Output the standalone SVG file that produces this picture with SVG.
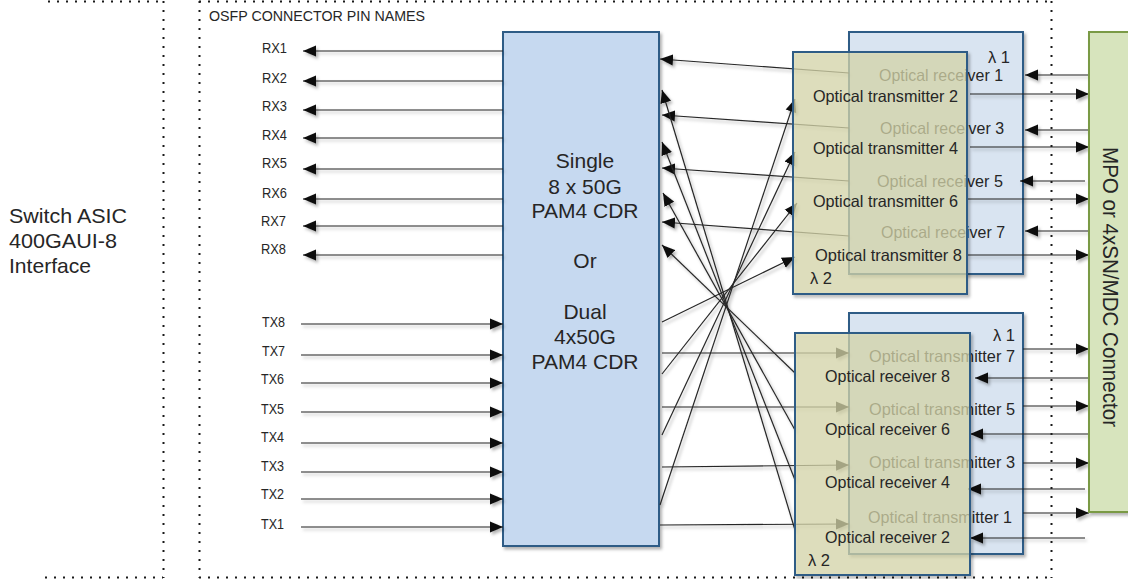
<svg xmlns="http://www.w3.org/2000/svg" width="1128" height="579" viewBox="0 0 1128 579">
<defs>
<style>
text{font-family:"Liberation Sans",Arial,sans-serif;fill:#262626}
.dot{stroke:#1a1a1a;stroke-width:2;stroke-dasharray:2 7;fill:none}
.pin{font-size:15px}
.cdr{fill:#c6d9f0;stroke:#2e5c86;stroke-width:2}
.back{fill:#d9e4f1;stroke:#2e5c86;stroke-width:2}
.front{fill:#dcdcae;fill-opacity:0.7;stroke:#2e5c86;stroke-width:2}
.mpo{fill:#d7e4bd;stroke:#7a9a45;stroke-width:2}
.opt{font-size:16.5px}
.big{font-size:21px}
.mid{text-anchor:middle}
.c line{stroke:#262626;stroke-width:1.2;marker-end:url(#ah)}
</style>
<marker id="ah" markerUnits="userSpaceOnUse" markerWidth="14" markerHeight="12" viewBox="0 0 14 12" refX="13" refY="6" orient="auto"><path d="M0,0.5 L13,6 L0,11.5 z" fill="#111"/></marker>
<filter id="sh" filterUnits="userSpaceOnUse" x="0" y="0" width="1128" height="579"><feDropShadow dx="2" dy="2.5" stdDeviation="1.5" flood-color="#000" flood-opacity="0.3"/></filter>
</defs>
<rect width="1128" height="579" fill="#fff"/>
<g id="frame">
<path class="dot" d="M48,1.5H163 M163.5,1V578 M45,577.5H163 M199.5,1V578 M199,1.5H1052 M1051.5,1V578 M199,577.5H1052"/>
<text x="209" y="21" font-size="14" textLength="216" lengthAdjust="spacingAndGlyphs">OSFP CONNECTOR PIN NAMES</text>
</g>
<g id="switch-asic">
<text class="big" x="9" y="222.5" textLength="118" lengthAdjust="spacingAndGlyphs">Switch ASIC</text>
<text class="big" x="9" y="247.5" textLength="108" lengthAdjust="spacingAndGlyphs">400GAUI-8</text>
<text class="big" x="9" y="272.5" textLength="82" lengthAdjust="spacingAndGlyphs">Interface</text>
</g>
<g id="pins">
<text class="pin" x="262" y="52.5" textLength="25" lengthAdjust="spacingAndGlyphs">RX1</text>
<text class="pin" x="262" y="82.5" textLength="25" lengthAdjust="spacingAndGlyphs">RX2</text>
<text class="pin" x="262" y="111" textLength="25" lengthAdjust="spacingAndGlyphs">RX3</text>
<text class="pin" x="262" y="139.5" textLength="25" lengthAdjust="spacingAndGlyphs">RX4</text>
<text class="pin" x="262" y="168" textLength="25" lengthAdjust="spacingAndGlyphs">RX5</text>
<text class="pin" x="262" y="198" textLength="25" lengthAdjust="spacingAndGlyphs">RX6</text>
<text class="pin" x="261" y="226" textLength="25" lengthAdjust="spacingAndGlyphs">RX7</text>
<text class="pin" x="261" y="254" textLength="25" lengthAdjust="spacingAndGlyphs">RX8</text>
<text class="pin" x="262" y="327" textLength="23" lengthAdjust="spacingAndGlyphs">TX8</text>
<text class="pin" x="262" y="356" textLength="23" lengthAdjust="spacingAndGlyphs">TX7</text>
<text class="pin" x="261" y="384" textLength="23" lengthAdjust="spacingAndGlyphs">TX6</text>
<text class="pin" x="261" y="413.5" textLength="23" lengthAdjust="spacingAndGlyphs">TX5</text>
<text class="pin" x="261" y="442" textLength="23" lengthAdjust="spacingAndGlyphs">TX4</text>
<text class="pin" x="261" y="471" textLength="23" lengthAdjust="spacingAndGlyphs">TX3</text>
<text class="pin" x="261" y="498.5" textLength="23" lengthAdjust="spacingAndGlyphs">TX2</text>
<text class="pin" x="261" y="529" textLength="23" lengthAdjust="spacingAndGlyphs">TX1</text>
</g>
<g id="cdr">
<rect class="cdr" x="503" y="32" width="156" height="514" filter="url(#sh)"/>
<text class="big mid" x="585" y="167.5">Single</text>
<text class="big mid" x="585" y="194">8 x 50G</text>
<text class="big mid" x="585" y="218">PAM4 CDR</text>
<text class="big mid" x="585" y="267.5">Or</text>
<text class="big mid" x="585" y="319">Dual</text>
<text class="big mid" x="585" y="344">4x50G</text>
<text class="big mid" x="585" y="369">PAM4 CDR</text>
</g>
<g id="rx-lambda1">
<rect class="back" x="849" y="32" width="174" height="242" filter="url(#sh)"/>
<text class="opt" x="1010" y="62.5" text-anchor="end">λ 1</text>
<text class="opt" x="879" y="80.5" textLength="124" lengthAdjust="spacingAndGlyphs">Optical receiver 1</text>
<text class="opt" x="880" y="133.5" textLength="124" lengthAdjust="spacingAndGlyphs">Optical receiver 3</text>
<text class="opt" x="877" y="187" textLength="126" lengthAdjust="spacingAndGlyphs">Optical receiver 5</text>
<text class="opt" x="881" y="237.5" textLength="124" lengthAdjust="spacingAndGlyphs">Optical receiver 7</text>
</g>
<g id="tx-lambda1">
<rect class="back" x="849" y="313" width="174" height="241" filter="url(#sh)"/>
<text class="opt" x="1015" y="340.5" text-anchor="end">λ 1</text>
<text class="opt" x="869" y="361.5" textLength="146" lengthAdjust="spacingAndGlyphs">Optical transmitter 7</text>
<text class="opt" x="869" y="414.5" textLength="146" lengthAdjust="spacingAndGlyphs">Optical transmitter 5</text>
<text class="opt" x="869" y="467.5" textLength="146" lengthAdjust="spacingAndGlyphs">Optical transmitter 3</text>
<text class="opt" x="868" y="522.5" textLength="144" lengthAdjust="spacingAndGlyphs">Optical transmitter 1</text>
</g>
<g id="connectors" class="c" filter="url(#sh)">
<line x1="503" y1="51" x2="303" y2="51"/>
<line x1="503" y1="81" x2="303" y2="81"/>
<line x1="503" y1="110" x2="303" y2="110"/>
<line x1="503" y1="138" x2="303" y2="138"/>
<line x1="503" y1="169" x2="303" y2="169"/>
<line x1="503" y1="199" x2="303" y2="199"/>
<line x1="503" y1="226" x2="303" y2="226"/>
<line x1="503" y1="255" x2="303" y2="255"/>
<line x1="301" y1="324" x2="503" y2="324"/>
<line x1="301" y1="355" x2="503" y2="355"/>
<line x1="301" y1="383" x2="503" y2="383"/>
<line x1="301" y1="412" x2="503" y2="412"/>
<line x1="301" y1="443" x2="503" y2="443"/>
<line x1="301" y1="472" x2="503" y2="472"/>
<line x1="301" y1="499" x2="503" y2="499"/>
<line x1="301" y1="527" x2="503" y2="527"/>
<line x1="849" y1="73" x2="660" y2="59"/>
<line x1="849" y1="128" x2="662" y2="115"/>
<line x1="849" y1="181" x2="662" y2="168"/>
<line x1="849" y1="236" x2="662" y2="222"/>
<line x1="795" y1="530" x2="662" y2="90"/>
<line x1="795" y1="480" x2="662" y2="142"/>
<line x1="795" y1="430" x2="663" y2="193"/>
<line x1="795" y1="373" x2="662" y2="245"/>
<line x1="660" y1="505" x2="795" y2="99"/>
<line x1="662" y1="435" x2="795" y2="152"/>
<line x1="662" y1="374" x2="797" y2="203"/>
<line x1="662" y1="322" x2="795" y2="257"/>
<line x1="662" y1="353" x2="849" y2="353"/>
<line x1="662" y1="407" x2="849" y2="407"/>
<line x1="662" y1="467" x2="849" y2="465"/>
<line x1="660" y1="525" x2="849" y2="524"/>
<line x1="1089" y1="75" x2="1025" y2="75"/>
<line x1="970" y1="94" x2="1089" y2="94"/>
<line x1="1089" y1="130" x2="1025" y2="130"/>
<line x1="970" y1="147" x2="1089" y2="147"/>
<line x1="1085" y1="181" x2="1020" y2="181"/>
<line x1="967" y1="199" x2="1089" y2="199"/>
<line x1="1089" y1="231" x2="1025" y2="231"/>
<line x1="967" y1="255" x2="1089" y2="255"/>
<line x1="1023" y1="349" x2="1089" y2="349"/>
<line x1="1093" y1="378" x2="975" y2="378"/>
<line x1="1023" y1="406" x2="1089" y2="406"/>
<line x1="1089" y1="434" x2="970" y2="434"/>
<line x1="1023" y1="463" x2="1089" y2="463"/>
<line x1="1085" y1="489" x2="968" y2="489"/>
<line x1="1023" y1="513" x2="1089" y2="513"/>
<line x1="1085" y1="538" x2="970" y2="538"/>
</g>
<g id="tx-lambda2">
<rect class="front" x="793" y="52" width="174" height="242" filter="url(#sh)"/>
<text class="opt" x="810" y="283.5">λ 2</text>
<text class="opt" x="813" y="101.5" textLength="145" lengthAdjust="spacingAndGlyphs">Optical transmitter 2</text>
<text class="opt" x="813" y="153.5" textLength="145" lengthAdjust="spacingAndGlyphs">Optical transmitter 4</text>
<text class="opt" x="813" y="206.5" textLength="145" lengthAdjust="spacingAndGlyphs">Optical transmitter 6</text>
<text class="opt" x="815" y="260.5" textLength="147" lengthAdjust="spacingAndGlyphs">Optical transmitter 8</text>
</g>
<g id="rx-lambda2">
<rect class="front" x="795" y="333" width="175" height="242" filter="url(#sh)"/>
<text class="opt" x="808" y="565.5">λ 2</text>
<text class="opt" x="825" y="381.5" textLength="125" lengthAdjust="spacingAndGlyphs">Optical receiver 8</text>
<text class="opt" x="825" y="434.5" textLength="125" lengthAdjust="spacingAndGlyphs">Optical receiver 6</text>
<text class="opt" x="825" y="487.5" textLength="125" lengthAdjust="spacingAndGlyphs">Optical receiver 4</text>
<text class="opt" x="825" y="542.5" textLength="125" lengthAdjust="spacingAndGlyphs">Optical receiver 2</text>
</g>
<g id="mpo-connector">
<rect class="mpo" x="1089" y="32" width="50" height="480" filter="url(#sh)"/>
<text transform="translate(1103,147) rotate(90)" font-size="22" textLength="280" lengthAdjust="spacingAndGlyphs">MPO or 4xSN/MDC Connector</text>
</g>
</svg>
